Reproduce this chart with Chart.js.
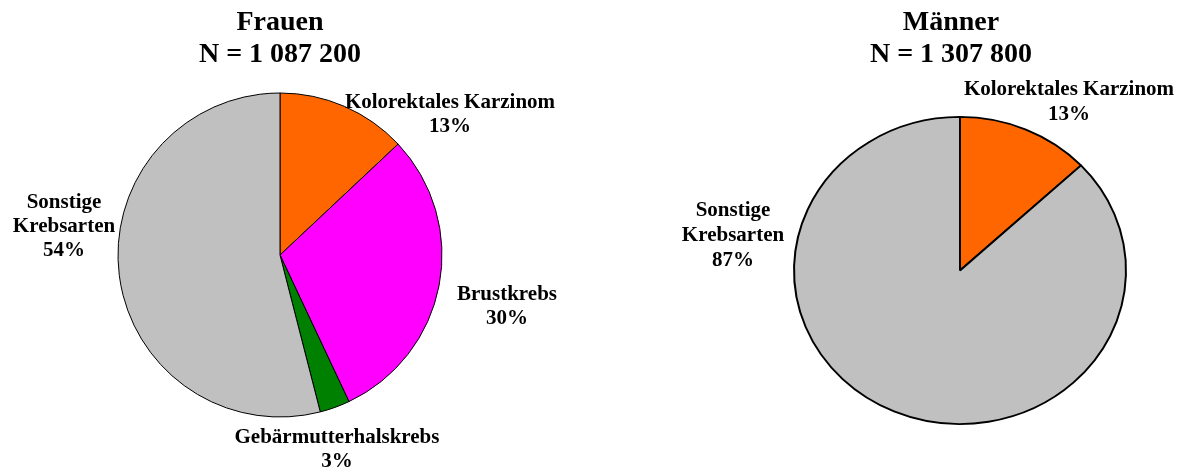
<!DOCTYPE html>
<html>
<head>
<meta charset="utf-8">
<script src="https://cdn.jsdelivr.net/npm/chart.js@4.4.0/dist/chart.umd.min.js"></script>
<style>
  html, body { margin: 0; padding: 0; background: #fff; overflow: hidden; }
  .pie-box { position: absolute; top: 0; height: 469px; }
  #box-frauen { left: 0; width: 560px; }
  #box-maenner { left: 600px; width: 583px; }
</style>
</head>
<body>
<div class="pie-box" id="box-frauen"><canvas id="pie-frauen"></canvas></div>
<div class="pie-box" id="box-maenner"><canvas id="pie-maenner"></canvas></div>
<script>
// Chart data
const frauenTitle = 'Frauen';
const frauenN = '1 087 200';
const frauenCategories = ['Kolorektales Karzinom', 'Brustkrebs', 'Gebärmutterhalskrebs', 'Sonstige Krebsarten'];
const frauenValues = [13, 30, 3, 54];
const frauenColors = ['#FF6600', '#FF00FF', '#008000', '#C0C0C0'];

const maennerTitle = 'Männer';
const maennerN = '1 307 800';
const maennerCategories = ['Kolorektales Karzinom', 'Sonstige Krebsarten'];
const maennerValues = [13, 87];
const maennerColors = ['#FF6600', '#C0C0C0'];

const FONT = '"Liberation Serif", "Times New Roman", serif';

// label anchors (canvas px, cap-centre of first line), one per slice
const frauenLabelPos = [
    { x: 450, y: 103, wrap: false },
    { x: 507, y: 295, wrap: false },
    { x: 337, y: 438, wrap: false },
    { x: 64, y: 203, wrap: true }
];
const maennerLabelPos = [
    { x: 469, y: 90, wrap: false },
    { x: 133, y: 210.5, wrap: true }
];

// squash pie vertically (Männer pie is slightly oval in the original)
const ovalPlugin = {
    id: 'oval',
    beforeDatasetsDraw(chart, args, opts) {
        const arc = chart.getDatasetMeta(0).data[0];
        const ctx = chart.ctx;
        ctx.save();
        ctx.translate(arc.x, arc.y);
        ctx.scale(1, opts.scaleY || 1);
        ctx.translate(-arc.x, -arc.y);
    },
    afterDatasetsDraw(chart) {
        chart.ctx.restore();
    }
};

// titles and slice labels
const textPlugin = {
    id: 'pieText',
    afterDraw(chart, args, opts) {
        const ctx = chart.ctx;
        ctx.save();
        ctx.fillStyle = '#000';
        ctx.textAlign = 'center';
        ctx.textBaseline = 'middle';

        ctx.font = 'bold 28px ' + FONT;
        ctx.fillText(opts.title, opts.titleX, 23);
        ctx.fillText('N = ' + opts.n, opts.titleX, 55);

        ctx.font = 'bold 21px ' + FONT;
        const labels = chart.data.labels;
        const values = chart.data.datasets[0].data;
        opts.positions.forEach((p, i) => {
            const lines = p.wrap ? labels[i].split(' ') : [labels[i]];
            lines.push(values[i] + '%');
            lines.forEach((line, j) => {
                ctx.fillText(line, p.x, p.y + j * opts.lineHeight);
            });
        });
        ctx.restore();
    }
};

function makePie(canvasId, categories, values, colors, cfg) {
    const ctx = document.getElementById(canvasId).getContext('2d');
    return new Chart(ctx, {
        type: 'pie',
        data: {
            labels: categories,
            datasets: [{
                data: values,
                backgroundColor: colors,
                borderColor: '#000',
                borderWidth: cfg.borderWidth
            }]
        },
        options: {
            responsive: true,
            maintainAspectRatio: false,
            animation: false,
            radius: cfg.radius,
            layout: { padding: cfg.padding },
            events: [],
            plugins: {
                legend: { display: false },
                tooltip: { enabled: false },
                oval: { scaleY: cfg.scaleY },
                pieText: {
                    title: cfg.title,
                    n: cfg.n,
                    titleX: cfg.titleX,
                    positions: cfg.positions,
                    lineHeight: cfg.lineHeight
                }
            }
        },
        plugins: [ovalPlugin, textPlugin]
    });
}

makePie('pie-frauen', frauenCategories, frauenValues, frauenColors, {
    borderWidth: 1,
    radius: 162,
    padding: { top: 41 },
    scaleY: 1,
    title: frauenTitle,
    n: frauenN,
    titleX: 280,
    positions: frauenLabelPos,
    lineHeight: 24
});

makePie('pie-maenner', maennerCategories, maennerValues, maennerColors, {
    borderWidth: 2,
    radius: 166,
    padding: { left: 137, top: 72 },
    scaleY: 0.925,
    title: maennerTitle,
    n: maennerN,
    titleX: 351,
    positions: maennerLabelPos,
    lineHeight: 25
});
</script>
</body>
</html>
